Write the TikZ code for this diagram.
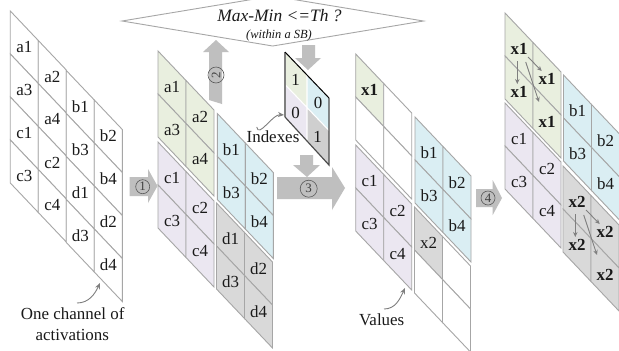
\documentclass[tikz,border=0pt]{standalone}
\usepackage{fontspec}
\setmainfont{Liberation Serif}
\usetikzlibrary{arrows.meta}
\definecolor{cgreen}{HTML}{E9EFDF}
\definecolor{cblue}{HTML}{DAEEF3}
\definecolor{cpurple}{HTML}{EBE7F1}
\definecolor{cgray}{HTML}{D9D9D9}
\definecolor{cdark}{HTML}{CFCFCF}
\definecolor{cline}{HTML}{A6A6A6}
\definecolor{carrow}{HTML}{BFBFBF}
\definecolor{cthin}{HTML}{7F7F7F}
\tikzset{
  cellline/.style={draw=cline,line width=0.9pt,line join=miter},
  lab/.style={inner sep=0pt,font=\fontsize{17}{20}\selectfont,text=black!90},
  bigarrow/.style={fill=carrow,draw=none},
  numcirc/.style={circle,draw=black!65,line width=0.6pt,inner sep=0pt,minimum size=#1,font=\fontsize{13}{14}\selectfont,text=black!75},
  thinarrow/.style={draw=cthin,line width=0.9pt,-{Stealth[length=5pt,width=4.5pt]}},
  curvearrow/.style={draw=cthin,line width=0.9pt,-{Stealth[length=6pt,width=5pt]}},
}
% name, x, y, list of fill/label for col0 row0, col0 row1, col1 row0, col1 row1
\newcommand\skblk[4]{%
  \foreach \f/\t [count=\i] in {#4}{%
    \pgfmathtruncatemacro\cc{int((\i-1)/2)}%
    \pgfmathtruncatemacro\rr{mod(\i-1,2)}%
    \pgfmathsetmacro\px{#2+28*\cc}%
    \pgfmathsetmacro\py{#3+29.5*\cc+43*\rr}%
    \draw[cellline,fill=\f] (\px,\py) -- ++(28,29.5) -- ++(0,43) -- ++(-28,-29.5) -- cycle;
    \node[lab] (#1-\i) at (\px+14,\py+36) {\t};
  }%
}
\begin{document}
\begin{tikzpicture}[x=1bp,y=-1bp]
\clip (0,0) rectangle (619,350);
\fill[white] (0,0) rectangle (619,350);

% decision diamond
\draw[draw=cline,line width=0.9pt,fill=white] (122,21) -- (272.7,-4) -- (423.5,21) -- (272.7,46) -- cycle;
\node[lab,font=\fontsize{17.5}{20}\selectfont\itshape] (maxmin) at (279.5,16) {Max-Min <=Th ?};
\node[lab,font=\fontsize{12.5}{14}\selectfont\itshape] (within) at (279,35.5) {(within a SB)};

% arrow 2 (behind the blocks)
\fill[bigarrow] (216,40) -- (229,52) -- (222,52) -- (222,104) -- (209,100) -- (209,52) -- (203,52) -- cycle;

% grid 1
\skblk{ga}{10.3}{11}{white/a1,white/a3,white/a2,white/a4}
\skblk{gc}{10.3}{97}{white/c1,white/c3,white/c2,white/c4}
\skblk{gb}{66.3}{70.5}{white/b1,white/b3,white/b2,white/b4}
\skblk{gd}{66.3}{156.5}{white/d1,white/d3,white/d2,white/d4}

% grid 2
\skblk{ha}{158}{51}{cgreen/a1,cgreen/a3,cgreen/a2,cgreen/a4}
\skblk{hc}{158}{142}{cpurple/c1,cpurple/c3,cpurple/c2,cpurple/c4}
\skblk{hb}{217.3}{113.5}{cblue/b1,cblue/b3,cblue/b2,cblue/b4}
\skblk{hd}{216.5}{203}{cgray/d1,cgray/d3,cgray/d2,cgray/d4}

% grid 3
\skblk{ia}{355.7}{54}{cgreen/\textbf{x1},white/{},white/{},white/{}}
\skblk{ic}{355.7}{145}{cpurple/c1,cpurple/c3,cpurple/c2,cpurple/c4}
\skblk{ib}{415}{117}{cblue/b1,cblue/b3,cblue/b2,cblue/b4}
\skblk{id}{414.5}{207}{cgray/x2,white/{},white/{},white/{}}

% grid 4
\skblk{ja}{505}{13}{cgreen/\textbf{x1},cgreen/\textbf{x1},cgreen/\textbf{x1},cgreen/\textbf{x1}}
\skblk{jc}{505}{103}{cpurple/c1,cpurple/c3,cpurple/c2,cpurple/c4}
\skblk{jb}{563.5}{75}{cblue/b1,cblue/b3,cblue/b2,cblue/b4}
\skblk{jd}{563}{166}{cgray/\textbf{x2},cgray/\textbf{x2},cgray/\textbf{x2},cgray/\textbf{x2}}

% index block
\fill[cgreen] (285,52) -- (307,75) -- (307,107.5) -- (285,84.5) -- cycle;
\fill[cpurple] (285,84.5) -- (307,107.5) -- (307,140) -- (285,117) -- cycle;
\fill[cblue] (307,75) -- (329,98) -- (329,130.5) -- (307,107.5) -- cycle;
\fill[cdark] (307,107.5) -- (329,130.5) -- (329,165) -- (307,140) -- cycle;
\draw[white,line width=1.1pt] (285,84.5) -- (329,130.5) (307,75) -- (307,140);
\draw[draw=cthin,line width=1.2pt] (285,52) -- (285,117);
\draw[draw=black!70,line width=1.2pt] (285,117) -- (329,165) -- (329,98);
\draw[draw=black,line width=1pt] (285,52) -- (329,98);
\node[lab] (i1) at (295.5,80) {1};
\node[lab] (i2) at (295.5,113) {0};
\node[lab] (i3) at (318,102.5) {0};
\node[lab] (i4) at (317.5,137) {1};

% down arrows around the index block
\fill[bigarrow] (302,45) -- (315,45) -- (315,58) -- (321,58) -- (308,70) -- (295,58) -- (302,58) -- cycle;
\fill[bigarrow] (300,155) -- (313,155) -- (313,165) -- (320,165) -- (307,177) -- (293,165) -- (300,165) -- cycle;

% main arrows
\fill[bigarrow] (129.5,177) -- (148,177) -- (148,169) -- (157.5,186) -- (148,203) -- (148,196) -- (129.5,196) -- cycle;
\fill[bigarrow] (277,177) -- (332,177) -- (332,167) -- (345,188) -- (332,210) -- (332,199) -- (277,199) -- cycle;
\fill[bigarrow] (476,189) -- (492.7,189) -- (492.7,180) -- (502,198) -- (492.7,215) -- (492.7,207) -- (476,207) -- cycle;

\node[numcirc=14bp] (n1) at (142.7,186.7) {1};
\node[numcirc=16bp,rotate=90] (n2) at (216,75) {2};
\node[numcirc=17bp] (n3) at (308.7,188.7) {3};
\node[numcirc=14bp] (n4) at (488,198) {4};

% arrows between repeated values
\coordinate (a1s) at (517.3,61); \coordinate (a1e) at (517.3,84);
\coordinate (a2s) at (528,57);   \coordinate (a2e) at (541.7,71);
\coordinate (a3s) at (525.7,62); \coordinate (a3e) at (539,102);
\draw[thinarrow] (a1s) -- (a1e);
\draw[thinarrow] (a2s) -- (a2e);
\draw[thinarrow] (a3s) -- (a3e);
\coordinate (b1s) at (575.3,214); \coordinate (b1e) at (575.3,237);
\coordinate (b2s) at (586,210);   \coordinate (b2e) at (599.7,224);
\coordinate (b3s) at (583.7,215); \coordinate (b3e) at (597,255);
\draw[thinarrow] (b1s) -- (b1e);
\draw[thinarrow] (b2s) -- (b2e);
\draw[thinarrow] (b3s) -- (b3e);

% labels
\node[lab] (indexes) at (273,136.7) {Indexes};
\node[lab] (one) at (72.7,314) {One channel of};
\node[lab] (act) at (72.3,335) {activations};
\node[lab] (values) at (381.7,320) {Values};

\coordinate (ci1) at (256.7,127); \coordinate (ci2) at (284,115);
\coordinate (co1) at (77,303);    \coordinate (co2) at (100,283);
\coordinate (cv1) at (384,309);   \coordinate (cv2) at (405,288);
\draw[curvearrow] (ci1) to[out=-80,in=175] (ci2);
\draw[curvearrow] (co1) to[out=0,in=-115] (co2);
\draw[curvearrow] (cv1) to[out=0,in=-115] (cv2);
\end{tikzpicture}
\end{document}
